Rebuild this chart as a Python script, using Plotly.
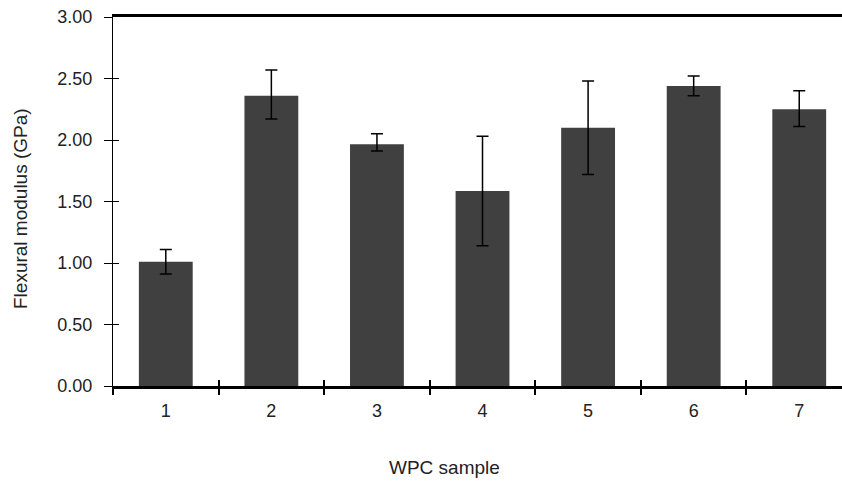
import plotly.graph_objects as go

samples = ["1", "2", "3", "4", "5", "6", "7"]
modulus = [1.01, 2.36, 1.965, 1.585, 2.10, 2.44, 2.25]
err_upper = [0.10, 0.21, 0.085, 0.445, 0.38, 0.08, 0.15]
err_lower = [0.10, 0.19, 0.055, 0.445, 0.38, 0.08, 0.14]
y_ticks = [0, 0.5, 1.0, 1.5, 2.0, 2.5, 3.0]
y_tick_text = ["0.00", "0.50", "1.00", "1.50", "2.00", "2.50", "3.00"]
x_title = "WPC sample"
y_title = "Flexural modulus (GPa)"

font_family = "Liberation Sans, Arial, sans-serif"

fig = go.Figure()
fig.add_trace(go.Bar(
    x=list(range(len(samples))), y=modulus,
    width=0.51,
    marker=dict(color="#404040", line=dict(width=0)),
    error_y=dict(type="data", symmetric=False, array=err_upper, arrayminus=err_lower,
                 color="black", thickness=1.5, width=6),
    showlegend=False,
))

# invisible trace for inside tick marks (cross ticks)
fig.add_trace(go.Scatter(x=[0], y=[0], xaxis="x2", yaxis="y2", mode="markers",
                         marker=dict(opacity=0), showlegend=False, hoverinfo="skip"))

xr = [-0.5, 6.405]
fig.update_layout(
    width=842, height=483,
    margin=dict(l=113, r=0, t=17, b=97),
    plot_bgcolor="white", paper_bgcolor="white",
    font=dict(family=font_family, size=18, color="#222"),
    xaxis=dict(
        range=xr,
        tickmode="array", tickvals=list(range(len(samples))), ticktext=samples,
        ticks="", showgrid=False, zeroline=False,
        showline=True, linecolor="black", linewidth=2.5, mirror=True,
        minor=dict(tickmode="array", tickvals=[i - 0.5 for i in range(len(samples) + 1)],
                   ticks="outside", ticklen=6, tickwidth=2, tickcolor="black"),
        ticklabelstandoff=7,
    ),
    yaxis=dict(
        range=[0, 3.0],
        tickmode="array", tickvals=y_ticks, ticktext=y_tick_text,
        ticks="outside", ticklen=8, tickwidth=1.2, tickcolor="black",
        showgrid=False, zeroline=False,
        showline=True, linecolor="black", linewidth=1.2,
        ticklabelstandoff=8,
    ),
    xaxis2=dict(
        range=xr, overlaying="x",
        tickmode="array", tickvals=[i - 0.5 for i in range(len(samples) + 1)],
        ticks="inside", ticklen=6, tickwidth=2, tickcolor="black",
        showticklabels=False, showgrid=False, zeroline=False, showline=False,
    ),
    yaxis2=dict(
        range=[0, 3.0], overlaying="y",
        tickmode="array", tickvals=y_ticks[:-1],
        ticks="inside", ticklen=6, tickwidth=1.2, tickcolor="black",
        showticklabels=False, showgrid=False, zeroline=False, showline=False,
    ),
    annotations=[
        dict(text=x_title, xref="paper", yref="paper", x=(444 - 113) / 729, y=-(467 - 386) / 369,
             xanchor="center", yanchor="middle", showarrow=False, font=dict(size=19)),
        dict(text=y_title, xref="paper", yref="paper", x=-(113 - 20) / 729, y=1 - (209 - 17) / 369,
             xanchor="center", yanchor="middle", showarrow=False, textangle=-90, font=dict(size=19)),
    ],
)

fig.write_html("out.html")
